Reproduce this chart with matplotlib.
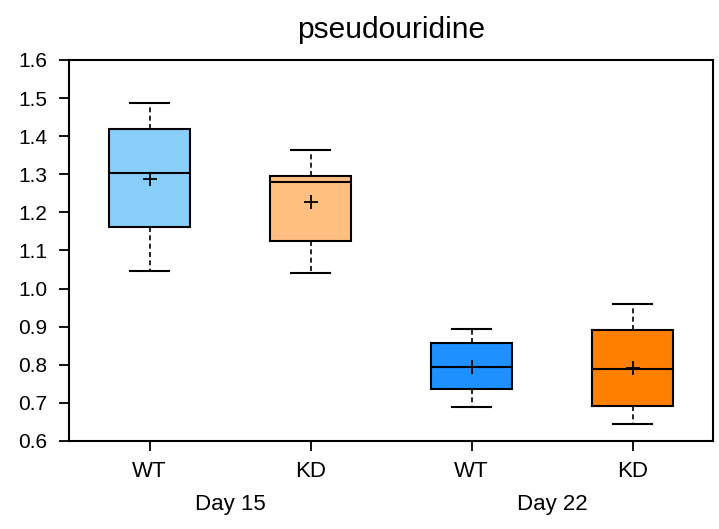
import matplotlib.pyplot as plt

plt.rcParams['font.family'] = ['Liberation Sans', 'DejaVu Sans']

# Werte
groups = ["WT", "KD", "WT", "KD"]
days = ["Day 15", "Day 22"]
whislo = [1.046, 1.041, 0.689, 0.645]
q1 = [1.162, 1.125, 0.736, 0.692]
med = [1.303, 1.280, 0.794, 0.790]
q3 = [1.419, 1.296, 0.857, 0.891]
whishi = [1.487, 1.364, 0.894, 0.960]
means = [1.288, 1.227, 0.794, 0.792]
colors = ["#87CEFA", "#FFBF80", "#1E90FF", "#FF8000"]
yticks = [0.6, 0.7, 0.8, 0.9, 1.0, 1.1, 1.2, 1.3, 1.4, 1.5, 1.6]

stats = []
for i in range(len(groups)):
    stats.append(dict(whislo=whislo[i], q1=q1[i], med=med[i], q3=q3[i],
                      whishi=whishi[i], mean=means[i], fliers=[], label=groups[i]))

fig = plt.figure(figsize=(7.19, 5.29), dpi=100)
ax = fig.add_axes([0.096, 0.1664, 0.8957, 0.7202])

bp = ax.bxp(stats, positions=[1, 2, 3, 4], widths=0.5, patch_artist=True,
            showmeans=True, showfliers=False,
            boxprops=dict(linewidth=1.5, edgecolor='black'),
            medianprops=dict(color='black', linewidth=1.5),
            whiskerprops=dict(color='black', linewidth=1.2, linestyle=(0, (3, 2))),
            capprops=dict(color='black', linewidth=1.5),
            meanprops=dict(marker='+', markeredgecolor='black', markersize=10, markeredgewidth=1.3),
            capwidths=0.24)
for patch, c in zip(bp['boxes'], colors):
    patch.set_facecolor(c)

ax.set_xlim(0.5, 4.5)
ax.set_ylim(0.6, 1.6)
ax.set_yticks(yticks)
ax.set_yticklabels(["%.1f" % v for v in yticks])
ax.tick_params(width=1.3, length=7.5)
ax.tick_params(axis='y', labelsize=15, pad=8)
ax.tick_params(axis='x', labelsize=16, pad=7)
for s in ax.spines.values():
    s.set_linewidth(1.5)

# Gruppenbeschriftung unter den Ticks
ax.text(1.5, -0.181, days[0], transform=ax.get_xaxis_transform(), ha='center', va='baseline', fontsize=16)
ax.text(3.5, -0.181, days[1], transform=ax.get_xaxis_transform(), ha='center', va='baseline', fontsize=16)

ax.set_title("pseudouridine", fontsize=21.5, pad=16)

fig.savefig("out.png", dpi=100)
